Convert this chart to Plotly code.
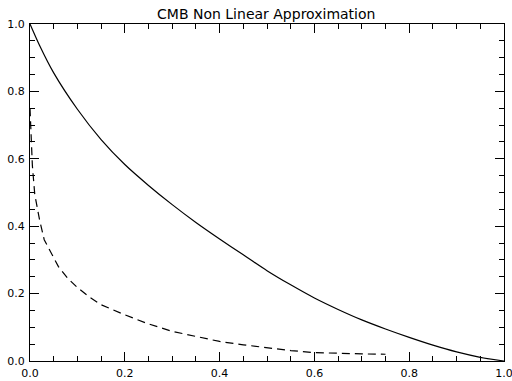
import plotly.graph_objects as go

# Solid curve
solid_x = [0.0, 0.02, 0.05, 0.1, 0.15, 0.2, 0.25, 0.3, 0.35, 0.4, 0.45, 0.5, 0.55, 0.6,
           0.65, 0.7, 0.75, 0.8, 0.85, 0.9, 0.95, 1.0]
solid_y = [1.0, 0.937, 0.855, 0.747, 0.657, 0.583, 0.521, 0.464, 0.411, 0.362, 0.315, 0.268,
           0.226, 0.187, 0.153, 0.122, 0.095, 0.070, 0.047, 0.027, 0.011, 0.0]

# Dashed curve
dash_x = [0.0, 0.002, 0.005, 0.01, 0.02, 0.03, 0.04, 0.05, 0.06, 0.08, 0.10, 0.125, 0.15,
          0.2, 0.25, 0.3, 0.35, 0.4, 0.45, 0.5, 0.55, 0.6, 0.65, 0.7, 0.75]
dash_y = [0.75, 0.67, 0.58, 0.495, 0.42, 0.36, 0.332, 0.305, 0.28, 0.245, 0.218, 0.19, 0.167,
          0.137, 0.11, 0.088, 0.072, 0.058, 0.048, 0.039, 0.031, 0.025, 0.022, 0.021, 0.02]

tick_vals = [0.0, 0.2, 0.4, 0.6, 0.8, 1.0]
tick_text = ["0.0", "0.2", "0.4", "0.6", "0.8", "1.0"]
title_text = "CMB Non Linear Approximation"

fig = go.Figure()
fig.add_trace(go.Scatter(x=solid_x, y=solid_y, mode="lines",
                         line=dict(color="black", width=1.2, shape="spline", smoothing=0.7),
                         showlegend=False))
fig.add_trace(go.Scatter(x=dash_x, y=dash_y, mode="lines",
                         line=dict(color="black", width=1.2, dash="8px,5px"),
                         showlegend=False))

axis_common = dict(
    range=[0, 1], showgrid=False, zeroline=False, automargin=False,
    ticklabeloverflow="allow",
    showline=True, linecolor="black", linewidth=1, mirror="ticks",
    ticks="inside", ticklen=9, tickwidth=1, tickcolor="black",
    tickvals=tick_vals, ticktext=tick_text,
    tickfont=dict(family="DejaVu Sans", size=11, color="black"),
    minor=dict(ticks="inside", ticklen=5, tickwidth=1, tickcolor="black", dtick=0.05,
               tick0=0, showgrid=False),
)

fig.update_layout(
    width=512, height=381,
    margin=dict(l=30, r=8, t=24, b=20),
    paper_bgcolor="white", plot_bgcolor="white",
    title=dict(text=title_text, x=0.52, xanchor="center", y=0.977, yanchor="top",
               font=dict(family="DejaVu Sans", size=14, color="black")),
    xaxis=dict(**axis_common, ticklabelstandoff=2),
    yaxis=dict(**axis_common, ticklabelstandoff=2),
)

fig.write_html("out.html")
